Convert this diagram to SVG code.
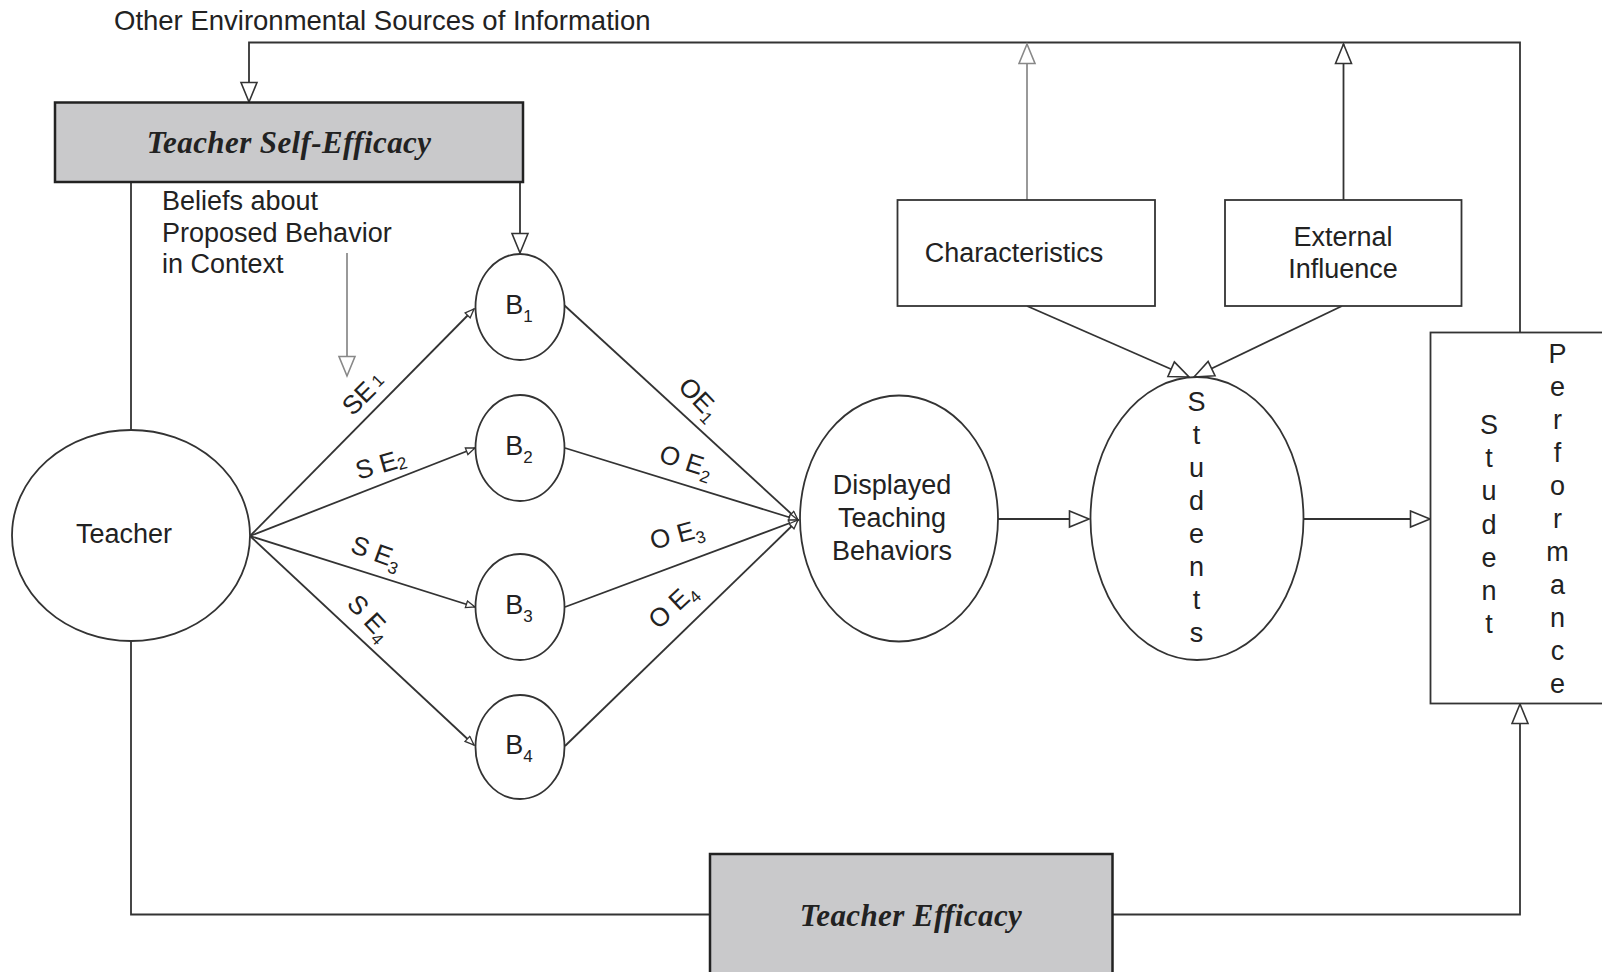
<svg xmlns="http://www.w3.org/2000/svg" width="1602" height="972" viewBox="0 0 1602 972">
<style>
.t{font-family:"Liberation Sans",Arial,sans-serif;font-size:27px;fill:#222}
.lb{font-family:"Liberation Sans",Arial,sans-serif;font-size:26px;fill:#222}
.sub{font-size:17px}
.bi{font-family:"Liberation Serif","Times New Roman",serif;font-size:31px;font-weight:bold;font-style:italic;fill:#222;letter-spacing:0.4px}
.ln{fill:none;stroke:#333;stroke-width:1.8}
.lg{fill:none;stroke:#999;stroke-width:2}
.shape{fill:#fff;stroke:#333;stroke-width:1.8}
.gray{fill:#c9c9cb;stroke:#222;stroke-width:2.5}
</style>
<defs>
<marker id="big" markerUnits="userSpaceOnUse" markerWidth="24" markerHeight="20" refX="21" refY="9.5" orient="auto">
<path d="M1.5,1.5 L21,9.5 L1.5,17.5 Z" fill="#fff" stroke="#333" stroke-width="1.6"/>
</marker>
<marker id="bigg" markerUnits="userSpaceOnUse" markerWidth="24" markerHeight="20" refX="21" refY="9.5" orient="auto">
<path d="M1.5,1.5 L21,9.5 L1.5,17.5 Z" fill="#fff" stroke="#888" stroke-width="1.6"/>
</marker>
<marker id="sm" markerUnits="userSpaceOnUse" markerWidth="12" markerHeight="10" refX="10" refY="4.5" orient="auto">
<path d="M1,1 L10,4.5 L1,8 Z" fill="#fff" stroke="#333" stroke-width="1.3"/>
</marker>
</defs>
<rect width="1602" height="972" fill="#fff"/>

<g id="connectors">
<path class="ln" d="M1520,332 V42.5 H249 V102" marker-end="url(#big)"/>
<path class="lg" d="M1027,200 V44" marker-end="url(#bigg)"/>
<path class="ln" d="M1343.5,200 V44" marker-end="url(#big)"/>
<path class="ln" d="M131,182 V430"/>
<path class="ln" d="M520,182 V253" marker-end="url(#big)"/>
<path class="lg" d="M347,253 V376" marker-end="url(#bigg)"/>
<path class="ln" d="M250,536 L474,309" marker-end="url(#sm)"/>
<path class="ln" d="M250,536 L475,448" marker-end="url(#sm)"/>
<path class="ln" d="M250,536 L475,607" marker-end="url(#sm)"/>
<path class="ln" d="M250,536 L474,745" marker-end="url(#sm)"/>
<path class="ln" d="M564,305 L798,520" marker-end="url(#sm)"/>
<path class="ln" d="M565,448 L798,520" marker-end="url(#sm)"/>
<path class="ln" d="M565,607 L798,520" marker-end="url(#sm)"/>
<path class="ln" d="M565,746 L798,520" marker-end="url(#sm)"/>
<path class="ln" d="M998,519 H1089" marker-end="url(#big)"/>
<path class="ln" d="M1304,519 H1430" marker-end="url(#big)"/>
<path class="ln" d="M1027,306 L1189,377" marker-end="url(#big)"/>
<path class="ln" d="M1342,306 L1194,377" marker-end="url(#big)"/>
<path class="ln" d="M131,641 V914.5 H710"/>
<path class="ln" d="M1112,914.5 H1520 V704" marker-end="url(#big)"/>
</g>

<text class="t" x="114" y="30" style="font-size:27.5px">Other Environmental Sources of Information</text>

<g id="tse">
<rect class="gray" x="55" y="102.5" width="468" height="79.5"/>
<text class="bi" x="289" y="153" text-anchor="middle">Teacher Self-Efficacy</text>
</g>

<g id="beliefs">
<text class="t" x="162" y="210">Beliefs about</text>
<text class="t" x="162" y="242">Proposed Behavior</text>
<text class="t" x="162" y="273">in Context</text>
</g>

<g id="teacher">
<ellipse class="shape" cx="131" cy="535.5" rx="119" ry="105.5"/>
<text class="t" x="124" y="543" text-anchor="middle">Teacher</text>
</g>

<g id="b1">
<ellipse class="shape" cx="520" cy="307" rx="44.5" ry="53"/>
<text class="t" x="519" y="314" text-anchor="middle">B<tspan class="sub" dy="8">1</tspan></text>
</g>
<g id="b2">
<ellipse class="shape" cx="520" cy="448" rx="44.5" ry="53"/>
<text class="t" x="519" y="455" text-anchor="middle">B<tspan class="sub" dy="8">2</tspan></text>
</g>
<g id="b3">
<ellipse class="shape" cx="520" cy="607" rx="44.5" ry="53"/>
<text class="t" x="519" y="614" text-anchor="middle">B<tspan class="sub" dy="8">3</tspan></text>
</g>
<g id="b4">
<ellipse class="shape" cx="520" cy="747" rx="44.5" ry="52"/>
<text class="t" x="519" y="754" text-anchor="middle">B<tspan class="sub" dy="8">4</tspan></text>
</g>

<g id="se-labels">
<text class="lb" transform="translate(364,394) rotate(-45)" text-anchor="middle" dy="8">SE<tspan class="sub" dx="4" dy="-2">1</tspan></text>
<text class="lb" transform="translate(381,465) rotate(-16)" text-anchor="middle" dy="8">S E<tspan class="sub" dy="2">2</tspan></text>
<text class="lb" transform="translate(376,553) rotate(20)" text-anchor="middle" dy="8">S E<tspan class="sub" dy="6">3</tspan></text>
<text class="lb" transform="translate(369,618) rotate(47)" text-anchor="middle" dy="8">S E<tspan class="sub" dy="6">4</tspan></text>
</g>

<g id="oe-labels">
<text class="lb" transform="translate(699,399) rotate(46)" text-anchor="middle" dy="8">OE<tspan class="sub" dy="6">1</tspan></text>
<text class="lb" transform="translate(686,462) rotate(18)" text-anchor="middle" dy="8">O E<tspan class="sub" dy="6">2</tspan></text>
<text class="lb" transform="translate(677,535) rotate(-15)" text-anchor="middle" dy="8">O E<tspan class="sub" dy="6">3</tspan></text>
<text class="lb" transform="translate(673,606) rotate(-43)" text-anchor="middle" dy="8">O E<tspan class="sub" dy="6">4</tspan></text>
</g>

<g id="dtb">
<ellipse class="shape" cx="899" cy="518.5" rx="99" ry="123"/>
<text class="t" x="892" y="494" text-anchor="middle">Displayed</text>
<text class="t" x="892" y="527" text-anchor="middle">Teaching</text>
<text class="t" x="892" y="560" text-anchor="middle">Behaviors</text>
</g>

<g id="characteristics">
<rect class="shape" x="897.5" y="200" width="257.5" height="106"/>
<text class="t" x="1014" y="261.5" text-anchor="middle">Characteristics</text>
</g>

<g id="external">
<rect class="shape" x="1225" y="200" width="236.5" height="106"/>
<text class="t" x="1343" y="246" text-anchor="middle">External</text>
<text class="t" x="1343" y="278" text-anchor="middle">Influence</text>
</g>

<g id="students">
<ellipse class="shape" cx="1197" cy="518.5" rx="106.5" ry="141.5"/>
<text class="t" text-anchor="middle"><tspan x="1196.5" y="410.5">S</tspan><tspan x="1196.5" dy="33.1">t</tspan><tspan x="1196.5" dy="33.1">u</tspan><tspan x="1196.5" dy="33.1">d</tspan><tspan x="1196.5" dy="33.1">e</tspan><tspan x="1196.5" dy="33.1">n</tspan><tspan x="1196.5" dy="33.1">t</tspan><tspan x="1196.5" dy="33.1">s</tspan></text>
</g>

<g id="performance">
<rect class="shape" x="1430.5" y="332.5" width="190" height="371"/>
<text class="t" text-anchor="middle"><tspan x="1489" y="434">S</tspan><tspan x="1489" dy="33.2">t</tspan><tspan x="1489" dy="33.2">u</tspan><tspan x="1489" dy="33.2">d</tspan><tspan x="1489" dy="33.2">e</tspan><tspan x="1489" dy="33.2">n</tspan><tspan x="1489" dy="33.2">t</tspan></text>
<text class="t" text-anchor="middle"><tspan x="1557.5" y="363">P</tspan><tspan x="1557.5" dy="33">e</tspan><tspan x="1557.5" dy="33">r</tspan><tspan x="1557.5" dy="33">f</tspan><tspan x="1557.5" dy="33">o</tspan><tspan x="1557.5" dy="33">r</tspan><tspan x="1557.5" dy="33">m</tspan><tspan x="1557.5" dy="33">a</tspan><tspan x="1557.5" dy="33">n</tspan><tspan x="1557.5" dy="33">c</tspan><tspan x="1557.5" dy="33">e</tspan></text>
</g>

<g id="te">
<rect class="gray" x="710" y="854" width="402.5" height="130"/>
<text class="bi" x="911" y="926" text-anchor="middle">Teacher Efficacy</text>
</g>
</svg>
